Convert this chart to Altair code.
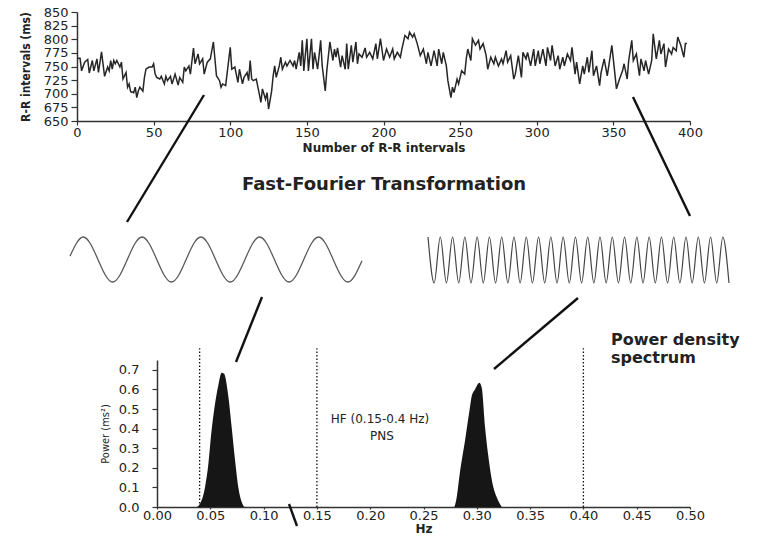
import altair as alt
import pandas as pd

# ---------------- data ----------------
# (R-R interval number, interval length in ms) - vertices of the tachogram
RR_POINTS = [
    (0, 765), (2, 765), (3, 742), (5, 758), (7, 763), (8, 738), (10, 761), (11, 742), (13, 764), (14, 739),
    (16, 777), (18, 732), (20, 749), (21, 742), (22, 761), (23, 745), (24, 761), (25, 755), (26, 761), (28, 749),
    (29, 758), (30, 727), (32, 739), (33, 712), (34, 718), (35, 704), (37, 702), (38, 712), (39, 693), (40, 705),
    (41, 712), (43, 705), (44, 730), (45, 745), (47, 749), (49, 749), (50, 755), (51, 736), (52, 730), (54, 727),
    (55, 732), (57, 718), (58, 732), (59, 724), (61, 732), (62, 718), (64, 736), (66, 716), (67, 730), (69, 721),
    (70, 749), (71, 742), (73, 751), (74, 736), (76, 784), (77, 755), (79, 773), (80, 755), (82, 764), (83, 736),
    (85, 758), (87, 764), (89, 795), (91, 733), (93, 724), (94, 712), (95, 718), (97, 715), (100, 785), (101, 745),
    (103, 749), (105, 721), (106, 745), (108, 718), (109, 730), (111, 739), (112, 724), (113, 761), (114, 727), (115, 724),
    (117, 727), (119, 699), (120, 684), (121, 709), (123, 690), (124, 702), (125, 672), (127, 705), (128, 733), (129, 751),
    (130, 730), (132, 751), (133, 767), (134, 745), (136, 758), (137, 751), (139, 761), (141, 751), (142, 761), (143, 745),
    (145, 776), (146, 751), (147, 798), (148, 742), (150, 801), (151, 742), (153, 801), (154, 745), (155, 776), (157, 745),
    (159, 798), (160, 751), (162, 705), (163, 742), (165, 795), (167, 761), (168, 782), (169, 767), (170, 784), (172, 749),
    (173, 770), (175, 745), (176, 792), (177, 745), (179, 789), (180, 758), (182, 795), (183, 755), (184, 773), (186, 767),
    (188, 784), (189, 767), (191, 776), (193, 764), (195, 792), (196, 764), (198, 801), (200, 761), (202, 782), (204, 767),
    (206, 782), (207, 764), (209, 776), (211, 767), (212, 782), (214, 807), (216, 801), (217, 813), (219, 804), (220, 810),
    (222, 792), (224, 770), (226, 782), (228, 755), (229, 776), (231, 751), (233, 779), (235, 751), (236, 782), (238, 755),
    (239, 776), (241, 751), (242, 724), (244, 693), (245, 712), (246, 702), (248, 727), (249, 718), (251, 742), (253, 736),
    (254, 764), (255, 782), (257, 761), (258, 801), (260, 789), (262, 798), (263, 782), (265, 792), (267, 770), (268, 745),
    (270, 767), (272, 755), (273, 767), (275, 751), (277, 764), (278, 755), (280, 779), (281, 758), (283, 770), (285, 727),
    (286, 736), (288, 770), (290, 730), (291, 776), (293, 764), (294, 776), (296, 751), (298, 782), (299, 751), (301, 779),
    (302, 755), (304, 782), (306, 751), (307, 785), (309, 761), (310, 789), (312, 751), (314, 770), (315, 745), (317, 767),
    (318, 751), (320, 773), (322, 761), (323, 785), (325, 736), (326, 758), (328, 718), (330, 751), (331, 736), (333, 767),
    (334, 739), (336, 779), (337, 733), (339, 751), (341, 715), (342, 739), (344, 764), (346, 733), (347, 751), (349, 789),
    (351, 736), (352, 709), (354, 727), (356, 742), (357, 755), (359, 727), (360, 761), (362, 798), (363, 761), (365, 773),
    (367, 733), (368, 764), (370, 742), (371, 761), (373, 736), (375, 761), (376, 810), (378, 764), (380, 798), (381, 773),
    (383, 792), (384, 749), (386, 782), (388, 773), (389, 785), (391, 779), (392, 804), (394, 789), (396, 767), (397, 792),
    (398, 792),
]

# power spectrum peaks (Hz, ms^2)
LF_HZ = [0.037, 0.040, 0.045, 0.048, 0.051, 0.054, 0.0575, 0.0607, 0.0629, 0.0669, 0.070, 0.0732, 0.0763, 0.0794, 0.0826]
LF_POWER = [0.0, 0.014, 0.10, 0.21, 0.38, 0.51, 0.62, 0.685, 0.68, 0.565, 0.41, 0.24, 0.10, 0.027, 0.0]
HF_HZ = [0.2786, 0.281, 0.284, 0.289, 0.2936, 0.2952, 0.2983, 0.3024, 0.3046, 0.3077, 0.3108, 0.3156, 0.3187, 0.3234]
HF_POWER = [0.0, 0.045, 0.17, 0.34, 0.51, 0.565, 0.60, 0.634, 0.61, 0.41, 0.26, 0.10, 0.05, 0.0]
BAND_EDGES_HZ = [0.04, 0.15, 0.40]
BAND_LINE_TOP = 0.81

# schematic waves: extrema positions (half periods) and relative amplitude
LEFT_WAVE_T = [0, 0.45, 1.45, 2.45, 3.45, 4.45, 5.45, 6.45, 7.45, 8.45, 9.45, 9.93]
LEFT_WAVE_V = [0.15, 1, -1, 1, -1, 1, -1, 1, -1, 1, -1, -0.06]
RIGHT_WAVE_V = [1, -1, 1, -1, 1, -1, 1, -1, 1, -1, 1, -1, 1, -1, 1, -1, 1, -1, 1, -1,
                1, -1, 1, -1, 1, -1, 1, -1, 1, -1, 1, -1, 1, -1, 1, -1, 1, -1, 1, -1,
                1, -1, 1, -1, 1, -1, 1, -1, 1, -1]

RR_X_TICKS = [0, 50, 100, 150, 200, 250, 300, 350, 400]
RR_Y_TICKS = [650, 675, 700, 725, 750, 775, 800, 825, 850]
HZ_TICKS = [0.0, 0.05, 0.10, 0.15, 0.20, 0.25, 0.30, 0.35, 0.40, 0.45, 0.50]
POWER_TICKS = [0.0, 0.1, 0.2, 0.3, 0.4, 0.5, 0.6, 0.7]

W, H = 781, 538
FONT = "DejaVu Sans"
NARROW = "Liberation Sans Narrow, DejaVu Sans Condensed, sans-serif"
INK = "#222222"

AX = dict(grid=False, domainColor="#333333", domainWidth=1.5, tickColor="#333333", tickWidth=1.2,
          labelFont=FONT, labelFontSize=13, labelColor=INK, labelOverlap=False, labelFlush=False,
          titleColor=INK)

one = pd.DataFrame({"k": [0]})

# ---------------- top: tachogram ----------------
rr_df = pd.DataFrame(RR_POINTS, columns=["interval", "ms"])
rr_line = alt.Chart(rr_df).mark_line(color="#262626", strokeWidth=1.5).encode(
    x=alt.X("interval:Q",
            scale=alt.Scale(domain=[0, 400], range=[77, 690], nice=False, zero=False),
            axis=alt.Axis(orient="bottom", offset=121 - H, values=RR_X_TICKS, tickSize=4, labelPadding=1,
                          title="Number of R-R intervals", titleFont=FONT, titleFontSize=12,
                          titleFontWeight="bold", titlePadding=3, **AX)),
    y=alt.Y("ms:Q",
            scale=alt.Scale(domain=[650, 850], range=[121, 12], nice=False, zero=False),
            axis=alt.Axis(orient="left", offset=-77, values=RR_Y_TICKS, tickSize=6, labelPadding=3,
                          title="R-R intervals (ms)", titleFont=NARROW, titleFontSize=12,
                          titleFontWeight="bold", titlePadding=11, **AX)),
)

# ---------------- middle: schematic waves ----------------
left_df = pd.DataFrame({"t": LEFT_WAVE_T, "v": LEFT_WAVE_V})
left_wave = alt.Chart(left_df).mark_line(color="#5a5a5a", strokeWidth=1.3, interpolate="monotone").encode(
    x=alt.X("t:Q", scale=alt.Scale(domain=[0, LEFT_WAVE_T[-1]], range=[70, 362], nice=False, zero=False), axis=None),
    y=alt.Y("v:Q", scale=alt.Scale(domain=[-1, 1], range=[282, 237], nice=False, zero=False), axis=None),
)
right_df = pd.DataFrame({"t": list(range(len(RIGHT_WAVE_V))), "v": RIGHT_WAVE_V})
right_wave = alt.Chart(right_df).mark_line(color="#444444", strokeWidth=1.2, interpolate="monotone").encode(
    x=alt.X("t:Q", scale=alt.Scale(domain=[0, len(RIGHT_WAVE_V) - 1], range=[428, 729], nice=False, zero=False), axis=None),
    y=alt.Y("v:Q", scale=alt.Scale(domain=[-1, 1], range=[283, 237], nice=False, zero=False), axis=None),
)

# ---------------- bottom: power spectrum ----------------
spec_df = pd.concat([
    pd.DataFrame({"hz": LF_HZ, "power": LF_POWER, "band": "LF"}),
    pd.DataFrame({"hz": HF_HZ, "power": HF_POWER, "band": "HF"}),
])
hz_scale = alt.Scale(domain=[0, 0.5], range=[157, 690], nice=False, zero=False)
pw_scale = alt.Scale(domain=[0, 0.75], range=[507, 360], nice=False, zero=False)

spectrum = alt.Chart(spec_df).mark_area(color="#161616", interpolate="monotone").encode(
    x=alt.X("hz:Q", scale=hz_scale,
            axis=alt.Axis(orient="bottom", offset=507 - H, values=HZ_TICKS, format=".2f", tickSize=2,
                          labelPadding=0, title="Hz", titleFont=FONT, titleFontSize=12,
                          titleFontWeight="bold", titlePadding=1, **AX)),
    y=alt.Y("power:Q", scale=pw_scale,
            axis=alt.Axis(orient="left", offset=-157, values=POWER_TICKS, format=".1f", tickSize=5,
                          labelPadding=13, title="Power (ms²)", titleFont=NARROW, titleFontSize=11,
                          titleFontWeight="normal", titlePadding=8, **AX)),
    detail="band:N",
)
band_df = pd.DataFrame({"hz": BAND_EDGES_HZ, "base": [0.0] * 3, "top": [BAND_LINE_TOP] * 3})
band_lines = alt.Chart(band_df).mark_rule(color="#111111", strokeWidth=1.3, strokeDash=[1.5, 2]).encode(
    x=alt.X("hz:Q", scale=hz_scale, axis=None),
    y=alt.Y("base:Q", scale=pw_scale, axis=None),
    y2="top:Q",
)

# ---------------- connectors and labels ----------------
CONNECTORS = [
    (204, 95, 127, 222),
    (633, 97, 690, 216),
    (262, 297, 236, 362),
    (578, 298, 494, 369),
    (289, 504, 297, 526),
]
connector_layers = [
    alt.Chart(one).mark_rule(color="#111111", strokeWidth=2.4).encode(
        x=alt.value(a), y=alt.value(b), x2=alt.value(c), y2=alt.value(d))
    for a, b, c, d in CONNECTORS
]

LABELS = [
    ("Fast-Fourier Transformation", 384, 185, 18, "bold", "center"),
    ("HF (0.15-0.4 Hz)", 380, 419, 12, "normal", "center"),
    ("PNS", 382, 436, 12, "normal", "center"),
    ("Power density", 611, 340, 16, "bold", "left"),
    ("spectrum", 611, 358, 16, "bold", "left"),
]
label_layers = [
    alt.Chart(one).mark_text(font=FONT, fontSize=fs, fontWeight=fw, align=al, baseline="middle", color=INK).encode(
        x=alt.value(x), y=alt.value(y), text=alt.value(txt))
    for txt, x, y, fs, fw, al in LABELS
]

chart = alt.layer(
    rr_line, left_wave, right_wave, band_lines, spectrum, *connector_layers, *label_layers
).resolve_scale(x="independent", y="independent").resolve_axis(x="independent", y="independent").properties(
    width=W, height=H, padding=0, autosize=alt.AutoSizeParams(type="none"), background="white"
).configure_view(stroke=None)

chart.save("out.html", embed_options={"renderer": "svg", "actions": False})
